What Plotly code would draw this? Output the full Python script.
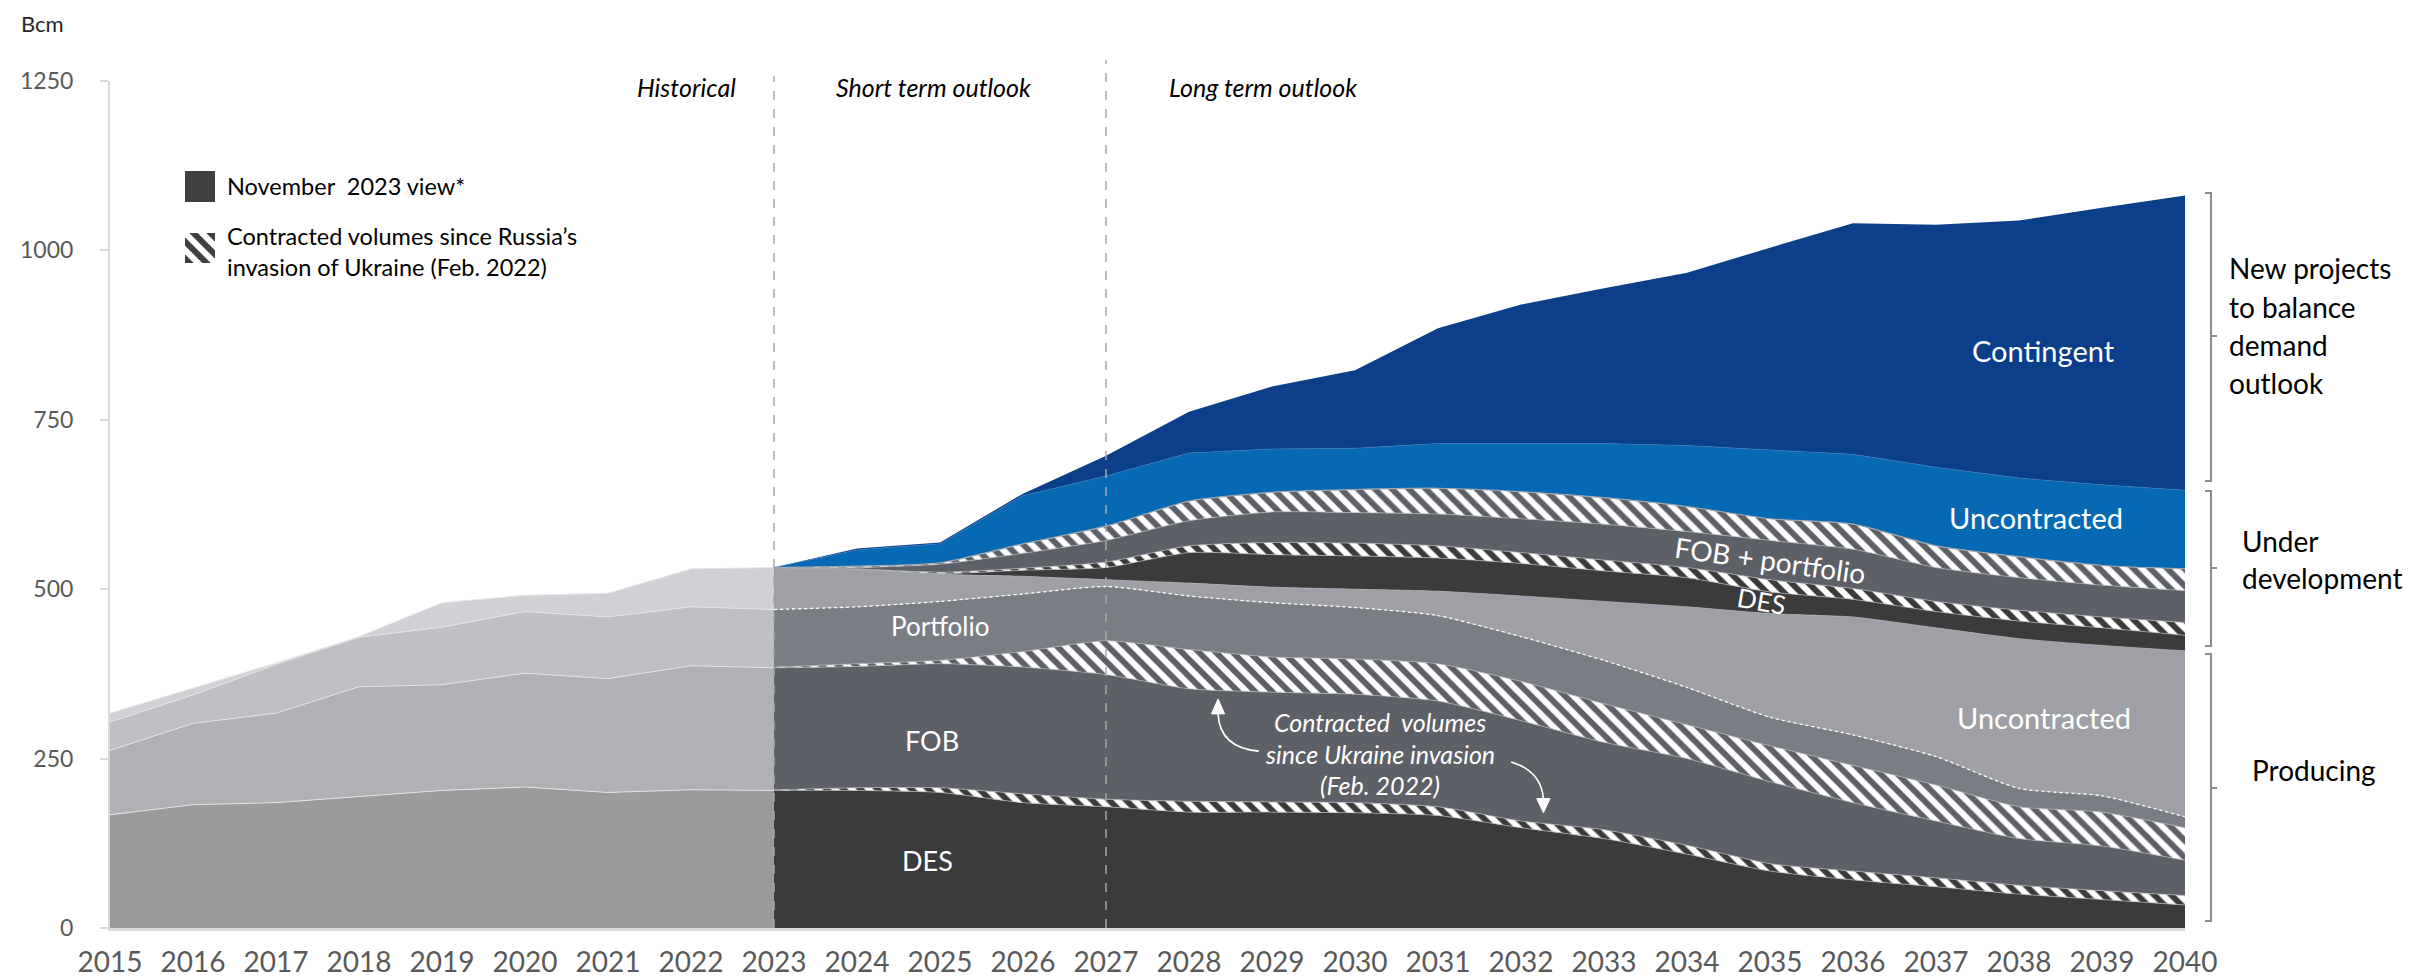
import plotly.graph_objects as go

# ---------------- data (Bcm) ----------------
hist_years = list(range(2015, 2024))
hist_des = [167, 182, 185, 194, 203, 208, 200, 204, 203]
hist_fob = [95, 120, 132, 162, 156, 168, 168, 183, 181]
hist_portfolio = [42, 42, 72, 73, 85, 91, 91, 87, 86]
hist_uncontracted = [13, 10, 2, 1, 36, 24, 35, 56, 62]

proj_years = list(range(2023, 2041))
# producing
prod_des = [203, 203, 200, 185, 179, 171, 171, 170, 166, 148, 132, 109, 84, 71, 61, 50, 42, 34]
prod_des_new = [1, 4, 7, 13, 11, 16, 15, 15, 13, 10, 13, 13, 11, 13, 13, 13, 13, 14]
prod_fob = [180, 179, 183, 187, 184, 166, 162, 160, 156, 148, 129, 128, 121, 101, 84, 69, 66, 52]
prod_fob_new = [1, 4, 5, 23, 50, 58, 52, 52, 55, 58, 57, 50, 53, 55, 53, 47, 50, 48]
prod_portfolio = [85, 84, 87, 85, 80, 79, 80, 76, 71, 66, 64, 55, 42, 45, 42, 27, 24, 16]
prod_uncontracted = [62, 56, 40, 26, 10, 19, 23, 27, 36, 60, 87, 119, 153, 174, 190, 221, 222, 245]
# under development
ud_des = [0, 0, 1, 9, 18, 45, 48, 49, 49, 48, 45, 43, 32, 26, 24, 26, 26, 23]
ud_des_new = [0, 0, 2, 3, 8, 10, 18, 19, 18, 16, 16, 15, 18, 16, 15, 16, 16, 19]
ud_fob_portfolio = [0, 2, 12, 22, 32, 37, 45, 45, 47, 50, 53, 53, 58, 58, 50, 48, 47, 47]
ud_fob_portfolio_new = [0, 2, 2, 14, 21, 29, 29, 34, 38, 40, 39, 37, 32, 37, 32, 31, 29, 32]
ud_uncontracted = [0, 24, 28, 71, 74, 71, 64, 61, 66, 71, 80, 90, 102, 103, 116, 116, 119, 116]
# new projects
contingent = [0, 2, 2, 3, 30, 61, 92, 115, 170, 205, 229, 255, 298, 341, 358, 380, 409, 435]

x_ticks = list(range(2015, 2041))
y_ticks = [0, 250, 500, 750, 1000, 1250]

# ---------------- styling ----------------
FONT = "Lato, 'Open Sans', sans-serif"
W, H = 2428, 977
L, R, T, B = 102, 251, 73, 57
PW, PH = W - L - R, H - T - B


def pxx(x):  # pixel -> paper x
    return (x - L) / PW


def pxy(y):  # pixel -> paper y
    return (H - B - y) / PH


C_HIST = ['#9b9b9b', '#b0b1b4', '#bfc0c3', '#d0d1d4']
C_DES = '#3b3b3b'
C_FOB = '#5e6067'
C_PORT = '#7b7d84'
C_UNC = '#9ea0a6'
C_BLUE = '#056ab3'
C_CONT = '#0b3f8a'
EDGE = 'rgba(175,177,182,0.9)'
HATCH = dict(shape='\\', fgcolor='white', fgopacity=1, size=12, solidity=0.5)

fig = go.Figure()


def add_area(x, y, color, group, line=None, hatch=False):
    kw = dict(x=x, y=y, stackgroup=group, mode='lines', fillcolor=color,
              line=line or dict(width=0, color=color),
              hoverinfo='skip', showlegend=False)
    if hatch:
        kw['fillpattern'] = dict(HATCH, bgcolor=color)
    fig.add_trace(go.Scatter(**kw))


hl = dict(width=1, color='rgba(230,230,232,0.9)')
add_area(hist_years, hist_des, C_HIST[0], 'h', hl)
add_area(hist_years, hist_fob, C_HIST[1], 'h', hl)
add_area(hist_years, hist_portfolio, C_HIST[2], 'h', hl)
add_area(hist_years, hist_uncontracted, C_HIST[3], 'h', hl)

sp = dict(width=0.8, color=EDGE, shape='spline', smoothing=0.6)
add_area(proj_years, prod_des, C_DES, 'p', sp)
add_area(proj_years, prod_des_new, C_DES, 'p', sp, hatch=True)
add_area(proj_years, prod_fob, C_FOB, 'p', sp)
add_area(proj_years, prod_fob_new, C_FOB, 'p', sp, hatch=True)
add_area(proj_years, prod_portfolio, C_PORT, 'p',
         dict(width=1.3, color='white', dash='dot', shape='spline', smoothing=0.6))
add_area(proj_years, prod_uncontracted, C_UNC, 'p', sp)
add_area(proj_years, ud_des, C_DES, 'p', sp)
add_area(proj_years, ud_des_new, C_DES, 'p', sp, hatch=True)
add_area(proj_years, ud_fob_portfolio, C_FOB, 'p', sp)
add_area(proj_years, ud_fob_portfolio_new, C_FOB, 'p',
         dict(width=1.2, color='#a3a7b0', shape='spline', smoothing=0.6), hatch=True)
add_area(proj_years, ud_uncontracted, C_BLUE, 'p', dict(width=0.6, color='#3b78c0'))
add_area(proj_years, contingent, C_CONT, 'p', dict(width=0, color=C_CONT))

# legend hatch glyph on an overlay axis
fig.add_trace(go.Scatter(x=[0, 1, 1, 0, 0], y=[0, 0, 1, 1, 0], xaxis='x2', yaxis='y2',
                         mode='lines', fill='toself', fillcolor='#404040',
                         fillpattern=dict(HATCH, bgcolor='#404040'),
                         line=dict(width=0), hoverinfo='skip', showlegend=False))

shapes = []
# period separators
shapes.append(dict(type='line', xref='x', yref='paper', x0=2023, x1=2023, y0=0, y1=pxy(68),
                   line=dict(color='#a6a6a6', width=1.5, dash='dash')))
shapes.append(dict(type='line', xref='x', yref='paper', x0=2027, x1=2027, y0=0, y1=pxy(52),
                   line=dict(color='#a6a6a6', width=1.5, dash='dash')))
# legend dark square
shapes.append(dict(type='rect', xref='paper', yref='paper', x0=pxx(177), x1=pxx(207),
                   y0=pxy(194), y1=pxy(163), fillcolor='#404040', line=dict(width=0)))


# right brackets
def bracket(ytop, ybot, ymid):
    xl, xm, xr = pxx(2197), pxx(2203), pxx(2209)
    path = (f'M {xl},{ytop} L {xm},{ytop} L {xm},{ybot} L {xl},{ybot} '
            f'M {xm},{ymid} L {xr},{ymid}')
    return dict(type='path', xref='paper', yref='paper', path=path,
                line=dict(color='#8c8c8c', width=2))


shapes.append(bracket(pxy(185), pxy(473), pxy(328)))
shapes.append(bracket(pxy(483), pxy(638), pxy(560)))
shapes.append(bracket(pxy(646), pxy(913), pxy(780)))

# curved arrows (data coordinates)
shapes.append(dict(type='path', xref='x', yref='y',
                   path='M 2028.84,261 Q 2028.37,266 2028.35,316',
                   line=dict(color='white', width=1.6)))
shapes.append(dict(type='path', xref='x', yref='y',
                   path='M 2028.27,316 L 2028.43,316 L 2028.35,338 Z',
                   fillcolor='white', line=dict(color='white', width=1)))
shapes.append(dict(type='path', xref='x', yref='y',
                   path='M 2031.88,245 Q 2032.24,232 2032.27,191',
                   line=dict(color='white', width=1.6)))
shapes.append(dict(type='path', xref='x', yref='y',
                   path='M 2032.19,191 L 2032.35,191 L 2032.27,170 Z',
                   fillcolor='white', line=dict(color='white', width=1)))

ann = []


def text(x, y, s, size, color='#000000', xref='x', yref='y', xanchor='center',
         italic=False, angle=0):
    ann.append(dict(x=x, y=y, xref=xref, yref=yref, text=(f'<i>{s}</i>' if italic else s),
                    showarrow=False, xanchor=xanchor, yanchor='middle', textangle=angle,
                    borderpad=0, font=dict(family=FONT, size=size, color=color)))


# header / period labels
text(pxx(34), pxy(16), 'Bcm', 22, '#262626', 'paper', 'paper')
text(2022.55, 1241, 'Historical', 25, '#000000', xanchor='right', italic=True)
text(2024.93, 1241, 'Short term outlook', 25, '#000000', italic=True)
text(2028.9, 1241, 'Long term outlook', 25, '#000000', italic=True)

# legend text
text(pxx(218), pxy(178), 'November  2023 view*', 23.5, '#000000', 'paper', 'paper', 'left')
text(pxx(218), pxy(228), 'Contracted volumes since Russia’s', 23.5, '#000000', 'paper', 'paper', 'left')
text(pxx(218), pxy(259), 'invasion of Ukraine (Feb. 2022)', 23.5, '#000000', 'paper', 'paper', 'left')

# layer labels
text(2025.0, 445, 'Portfolio', 26, 'white')
text(2024.9, 277, 'FOB', 27, 'white')
text(2024.85, 99, 'DES', 27, 'white')
text(2038.3, 853, 'Contingent', 29, 'white')
text(2038.2, 606, 'Uncontracted', 29, 'white')
text(2035.0, 543, 'FOB + portfolio', 28, 'white', angle=8)
text(2034.9, 482, 'DES', 26, 'white', angle=10)
text(2038.3, 310, 'Uncontracted', 29, 'white')
text(2030.3, 304, 'Contracted  volumes', 25, 'white', italic=True)
text(2030.3, 257, 'since Ukraine invasion', 25, 'white', italic=True)
text(2030.3, 211, '(Feb. 2022)', 25, 'white', italic=True)

# right-side group labels
for i, s in enumerate(['New projects', 'to balance', 'demand', 'outlook']):
    text(pxx(2220), pxy(260 + 38.5 * i), s, 28, '#000000', 'paper', 'paper', 'left')
text(pxx(2233), pxy(533), 'Under', 28, '#000000', 'paper', 'paper', 'left')
text(pxx(2233), pxy(570), 'development', 28, '#000000', 'paper', 'paper', 'left')
text(pxx(2243), pxy(762), 'Producing', 28, '#000000', 'paper', 'paper', 'left')

fig.update_layout(
    width=W, height=H,
    margin=dict(l=L, r=R, t=T, b=B),
    paper_bgcolor='white', plot_bgcolor='white',
    showlegend=False,
    font=dict(family=FONT),
    xaxis=dict(range=[2015, 2040], tickmode='array', tickvals=x_ticks,
               ticktext=[str(v) for v in x_ticks], showgrid=False, zeroline=False,
               showline=True, linecolor='#d9d9d9', linewidth=3, ticks='',
               tickfont=dict(family=FONT, size=28, color='#595959'),
               ticklabelstandoff=7, automargin=False, layer='above traces'),
    yaxis=dict(range=[0, 1250], tickmode='array', tickvals=y_ticks, showgrid=False,
               zeroline=False, showline=True, linecolor='#d9d9d9', linewidth=2,
               ticks='outside', ticklen=8, tickcolor='#d9d9d9', tickwidth=2,
               tickfont=dict(family=FONT, size=23, color='#595959'),
               ticklabelstandoff=22, automargin=False),
    xaxis2=dict(domain=[pxx(177), pxx(207)], range=[0, 1], anchor='y2', visible=False,
                fixedrange=True),
    yaxis2=dict(domain=[pxy(255), pxy(225)], range=[0, 1], anchor='x2', visible=False,
                fixedrange=True),
    shapes=shapes,
    annotations=ann,
)

fig.write_html('out.html')
